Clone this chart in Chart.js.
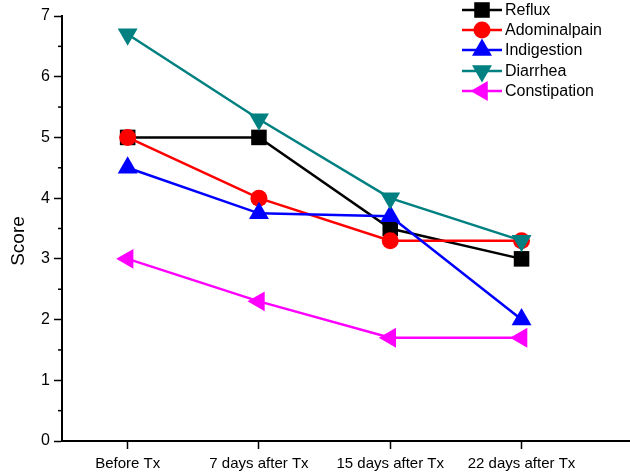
<!DOCTYPE html>
<html>
<head>
<meta charset="utf-8">
<script src="https://cdn.jsdelivr.net/npm/chart.js@4"></script>
<style>
html,body{margin:0;padding:0;background:#fff;}
#wrap{width:630px;height:476px;position:relative;}
</style>
</head>
<body>
<div id="wrap"><canvas id="c" width="630" height="476"></canvas></div>
<script>
const categories = ["Before Tx", "7 days after Tx", "15 days after Tx", "22 days after Tx"];
const reflux = [5.0, 5.0, 3.5, 3.0];
const adominalpain = [5.0, 4.0, 3.3, 3.3];
const indigestion = [4.5, 3.75, 3.7, 2.0];
const diarrhea = [6.7, 5.3, 4.0, 3.3];
const constipation = [3.0, 2.3, 1.7, 1.7];
const yTicks = [0, 1, 2, 3, 4, 5, 6, 7];

const seriesNames = ["Reflux", "Adominalpain", "Indigestion", "Diarrhea", "Constipation"];
const seriesValues = [reflux, adominalpain, indigestion, diarrhea, constipation];
const seriesColors = ["#000000", "#ff0000", "#0000ff", "#008080", "#ff00ff"];
const seriesStyles = ["rect", "circle", "triangle", "triangle", "triangle"];
const seriesRot = [0, 0, 0, 180, 270];
const seriesRadius = [11, 8.5, 11.5, 11.5, 11.5];

const FONT = '"Liberation Sans", Arial, sans-serif';

const datasets = seriesNames.map((n, i) => ({
  label: n,
  data: seriesValues[i].map((v, j) => ({x: j + 1, y: v})),
  borderColor: seriesColors[i],
  backgroundColor: seriesColors[i],
  borderWidth: 2.5,
  pointStyle: seriesStyles[i],
  pointRotation: seriesRot[i],
  pointRadius: seriesRadius[i],
  pointBorderWidth: 0,
  pointHoverRadius: seriesRadius[i],
  order: seriesNames.length - i,
  tension: 0,
  fill: false,
  clip: false
}));

const extras = {
  id: 'extras',
  afterDraw(chart) {
    const ctx = chart.ctx;
    const ys = chart.scales.y;
    const left = chart.chartArea.left;
    ctx.save();
    ctx.strokeStyle = '#000';
    ctx.lineWidth = 1.5;
    for (let k = 0; k < yTicks.length - 1; k++) {
      const v = (yTicks[k] + yTicks[k + 1]) / 2;
      const py = ys.getPixelForValue(v);
      ctx.beginPath();
      ctx.moveTo(left - 4, py);
      ctx.lineTo(left, py);
      ctx.stroke();
    }
    // y title
    ctx.save();
    ctx.translate(19, 241);
    ctx.rotate(-Math.PI / 2);
    ctx.font = '19px ' + FONT;
    ctx.fillStyle = '#000';
    ctx.textAlign = 'center';
    ctx.textBaseline = 'middle';
    ctx.fillText('Score', 0, 0);
    ctx.restore();
    // legend
    const lx0 = 462, lx1 = 502, tx = 505;
    const rowY = [10, 30, 50, 71, 91];
    ctx.font = '16px ' + FONT;
    ctx.textBaseline = 'middle';
    ctx.textAlign = 'left';
    chart.data.datasets.forEach((ds, i) => {
      const y = rowY[i];
      ctx.strokeStyle = ds.borderColor;
      ctx.lineWidth = 2.5;
      ctx.beginPath();
      ctx.moveTo(lx0, y);
      ctx.lineTo(lx1, y);
      ctx.stroke();
      ctx.fillStyle = ds.backgroundColor;
      Chart.helpers.drawPoint(ctx, {
        pointStyle: ds.pointStyle,
        rotation: ds.pointRotation,
        radius: ds.pointRadius,
        borderWidth: 0
      }, (lx0 + lx1) / 2, y);
      ctx.fillStyle = '#000';
      ctx.fillText(ds.label, tx, y + 1);
    });
    ctx.restore();
  }
};

new Chart(document.getElementById('c'), {
  type: 'line',
  data: { datasets },
  options: {
    responsive: false,
    animation: false,
    devicePixelRatio: 1,
    layout: { autoPadding: false, padding: { top: 16, right: 0, left: 0, bottom: 0 } },
    plugins: { legend: { display: false }, tooltip: { enabled: false } },
    scales: {
      x: {
        type: 'linear',
        min: 0.5,
        max: 4.826,
        afterBuildTicks(scale) {
          scale.ticks = categories.map((c, i) => ({ value: i + 1 }));
        },
        afterFit(scale) { scale.height = 35; scale.paddingRight = 0; scale.paddingLeft = 0; },
        ticks: {
          autoSkip: false,
          maxRotation: 0,
          color: '#000',
          font: { family: FONT, size: 15 },
          padding: 6,
          callback: (v) => categories[Math.round(v) - 1] || ''
        },
        grid: { drawOnChartArea: false, drawTicks: true, tickLength: 8, tickColor: '#000', tickWidth: 1.5 },
        border: { display: true, color: '#000', width: 2 }
      },
      y: {
        min: 0,
        max: 7,
        afterBuildTicks(scale) {
          scale.ticks = yTicks.map(v => ({ value: v }));
        },
        afterFit(scale) { scale.width = 62; scale.paddingTop = 0; scale.paddingBottom = 0; },
        ticks: {
          color: '#000',
          font: { family: FONT, size: 16 },
          padding: 4
        },
        grid: { drawOnChartArea: false, drawTicks: true, tickLength: 8, tickColor: '#000', tickWidth: 1.5 },
        border: { display: true, color: '#000', width: 2 }
      }
    }
  },
  plugins: [extras]
});
</script>
</body>
</html>
